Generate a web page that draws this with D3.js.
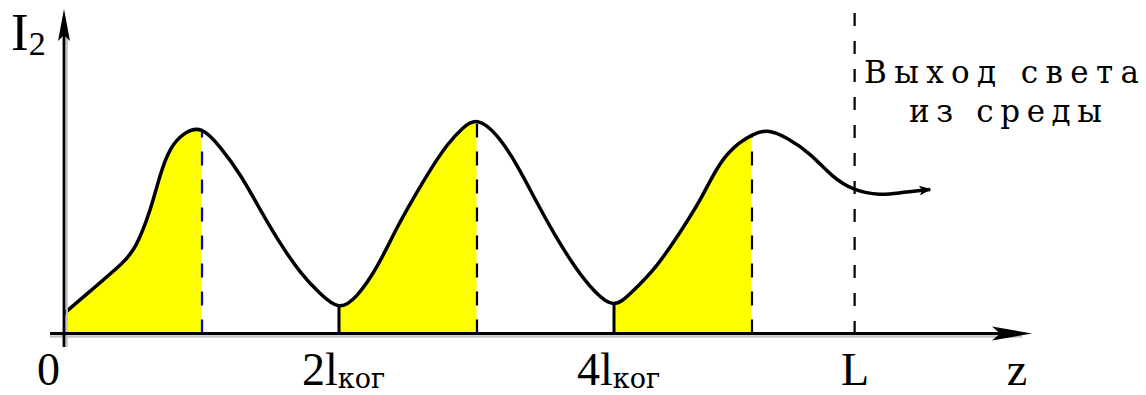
<!DOCTYPE html>
<html>
<head>
<meta charset="utf-8">
<script src="https://cdn.jsdelivr.net/npm/d3@7"></script>
<style>
  html, body { margin: 0; padding: 0; background: #fff; }
  svg { display: block; }
  text { font-family: "Liberation Serif", "Times New Roman", serif; fill: #000; }
  .cyr { font-family: "DejaVu Serif", serif; }
</style>
</head>
<body>
<svg id="chart" width="1146" height="395"></svg>
<script>
// Position along the medium, in units of the coherence length l_ког
const zValues = [
  0, 0.25, 0.42, 0.52, 0.63, 0.70, 0.77, 0.87, 1.0, 1.14, 1.28, 1.43, 1.57, 1.72, 1.86,
  2.0, 2.13, 2.28, 2.42, 2.54, 2.66, 2.79, 2.90, 3.0, 3.15, 3.30, 3.43, 3.57, 3.72, 3.86,
  4.0, 4.12, 4.31, 4.48, 4.63, 4.77, 4.92, 5.0, 5.11, 5.26, 5.43, 5.59, 5.74, 5.94, 6.08, 6.30
];
// Second-harmonic intensity I2, arbitrary units
const intensityValues = [
  0.095, 0.235, 0.330, 0.400, 0.586, 0.762, 0.886, 0.957, 0.990, 0.886, 0.762, 0.586, 0.429, 0.286, 0.190,
  0.108, 0.171, 0.314, 0.505, 0.643, 0.776, 0.905, 0.981, 1.030, 0.952, 0.800, 0.633, 0.467, 0.310, 0.195,
  0.118, 0.190, 0.314, 0.481, 0.633, 0.824, 0.915, 0.945, 0.975, 0.933, 0.857, 0.743, 0.681, 0.657, 0.671, 0.686
];

// Zones where the harmonic grows (shaded)
const growthZones = [[0, 1], [2, 3], [4, 5]];
// Ends of the growth zones (dashed verticals) and the minima (solid verticals)
const peakMarks = [1, 3, 5];
const peakColors = ["#0000ff", "#000", "#000"];
const troughMarks = [2, 4];
// Where light leaves the medium
const exitPosition = 5.75;

// Axis labels
const tickValues = [0, 2, 4, 5.75];
const tickMain = ["0", "2l", "4l", "L"];
const tickSub = ["", "ког", "ког", ""];
const annotationLines = ["Выход света", "из среды"];

const data = zValues.map((z, i) => ({ z, v: intensityValues[i] }));

const svg = d3.select("#chart");
const x = d3.scaleLinear().domain([0, 7]).range([64, 1026.5]);
const y = d3.scaleLinear().domain([0, 1.5]).range([333.5, 18.5]);

const curve = d3.curveBasis;

const defs = svg.append("defs");
const clip = defs.append("clipPath").attr("id", "zones");
clip.selectAll("rect").data(growthZones).join("rect")
  .attr("x", d => x(d[0]))
  .attr("width", d => x(d[1]) - x(d[0]))
  .attr("y", 0).attr("height", 395);

defs.append("marker")
  .attr("id", "curveArrow")
  .attr("viewBox", "0 0 12 10")
  .attr("refX", 11).attr("refY", 5)
  .attr("markerWidth", 12).attr("markerHeight", 10)
  .attr("markerUnits", "userSpaceOnUse")
  .attr("orient", "auto")
  .append("path")
  .attr("d", "M0,0 L12,5 L0,10 L3,5 Z")
  .attr("fill", "#000");

// Shaded growth zones: the area under the curve clipped to each zone
const fillLayer = svg.append("g");
fillLayer.append("path")
  .datum(data)
  .attr("clip-path", "url(#zones)")
  .attr("fill", "#ffff00")
  .attr("d", d3.area().x(d => x(d.z)).y0(y(0)).y1(d => y(d.v)).curve(curve));

const markLayer = svg.append("g");

// Intensity curve
const curvePath = svg.append("path")
  .datum(data)
  .attr("fill", "none")
  .attr("stroke", "#000")
  .attr("stroke-width", 3.5)
  .attr("stroke-linejoin", "round")
  .attr("marker-end", "url(#curveArrow)")
  .attr("d", d3.line().x(d => x(d.z)).y(d => y(d.v)).curve(curve));

// Height of the drawn curve at a given z
const pathNode = curvePath.node();
const totalLen = pathNode.getTotalLength();
function curveY(z) {
  const px = x(z);
  let lo = 0, hi = totalLen, pt = pathNode.getPointAtLength(0);
  for (let k = 0; k < 40; k++) {
    const mid = (lo + hi) / 2;
    pt = pathNode.getPointAtLength(mid);
    if (pt.x < px) lo = mid; else hi = mid;
  }
  return pt.y;
}

// Solid verticals at the minima
markLayer.selectAll(".trough").data(troughMarks).join("line")
  .attr("class", "trough")
  .attr("x1", d => x(d)).attr("x2", d => x(d))
  .attr("y1", y(0)).attr("y2", d => curveY(d))
  .attr("stroke", "#000").attr("stroke-width", 3);

// Dashed verticals at the ends of the growth zones
markLayer.selectAll(".peak").data(peakMarks).join("line")
  .attr("class", "peak")
  .attr("x1", d => x(d) + 0.5).attr("x2", d => x(d) + 0.5)
  .attr("y1", y(0)).attr("y2", d => curveY(d))
  .attr("stroke", (d, i) => peakColors[i])
  .attr("stroke-width", 2.2)
  .attr("stroke-dasharray", "14,14");

// Exit boundary of the medium
markLayer.append("line")
  .attr("x1", x(exitPosition)).attr("x2", x(exitPosition))
  .attr("y1", 13).attr("y2", y(0))
  .attr("stroke", "#000").attr("stroke-width", 2.2)
  .attr("stroke-dasharray", "13,15");

// Axes with a soft grey shadow
const x0 = x(0), y0 = y(0);
const xEnd = x(7.04), yTop = y(1.545);
const shadow = "#c4c4c4";
svg.append("line").attr("x1", 50).attr("x2", xEnd - 10).attr("y1", y0 + 3).attr("y2", y0 + 3)
  .attr("stroke", shadow).attr("stroke-width", 2.5);
svg.append("line").attr("x1", x0 + 2.8).attr("x2", x0 + 2.8).attr("y1", yTop + 25).attr("y2", 347)
  .attr("stroke", shadow).attr("stroke-width", 2.2);
svg.append("line").attr("x1", 50).attr("x2", xEnd - 8).attr("y1", y0).attr("y2", y0)
  .attr("stroke", "#000").attr("stroke-width", 2.8);
svg.append("line").attr("x1", x0).attr("x2", x0).attr("y1", yTop + 8).attr("y2", 347)
  .attr("stroke", "#000").attr("stroke-width", 2.8);
// arrowheads
svg.append("path")
  .attr("d", `M${xEnd},${y0} L${xEnd - 40},${y0 - 7} L${xEnd - 32},${y0} L${xEnd - 40},${y0 + 7} Z`)
  .attr("fill", "#000");
svg.append("path")
  .attr("d", `M${x0},${yTop} L${x0 - 6},${yTop + 32} L${x0},${yTop + 26} L${x0 + 6},${yTop + 32} Z`)
  .attr("fill", "#000");

// Tick labels along z
const gx = svg.append("g")
  .attr("transform", `translate(0,${y0})`)
  .call(d3.axisBottom(x).tickValues(tickValues).tickSize(0).tickFormat((d, i) => tickMain[i]))
  .attr("font-family", "Liberation Serif, Times New Roman, serif")
  .attr("font-size", 46);
gx.select(".domain").remove();
gx.selectAll(".tick text")
  .attr("y", 51.5).attr("dy", 0)
  .attr("x", (d, i) => i === 0 ? -16 : (tickSub[i] ? 4 : 0))
  .each(function (d, i) {
    if (tickSub[i]) {
      d3.select(this).append("tspan")
        .attr("class", "cyr")
        .attr("dy", 3).attr("font-size", 27).text(tickSub[i]);
    }
  });

// Axis names
svg.append("text").attr("x", 1017).attr("y", 385)
  .attr("text-anchor", "middle").attr("font-size", 46).text("z");
const yName = svg.append("text").attr("x", 11).attr("y", 50).attr("font-size", 53).text("I");
yName.append("tspan").attr("dy", 5).attr("font-size", 34).text("2");

// Annotation at the exit boundary
const noteX = [864, 909];
const noteY = [83, 122];
const noteLen = [275, 193];
svg.selectAll(".note").data(annotationLines).join("text")
  .attr("class", "note cyr")
  .attr("x", (d, i) => noteX[i])
  .attr("y", (d, i) => noteY[i])
  .attr("font-size", 31)
  .attr("textLength", (d, i) => noteLen[i])
  .attr("lengthAdjust", "spacing")
  .text(d => d);
</script>
</body>
</html>
